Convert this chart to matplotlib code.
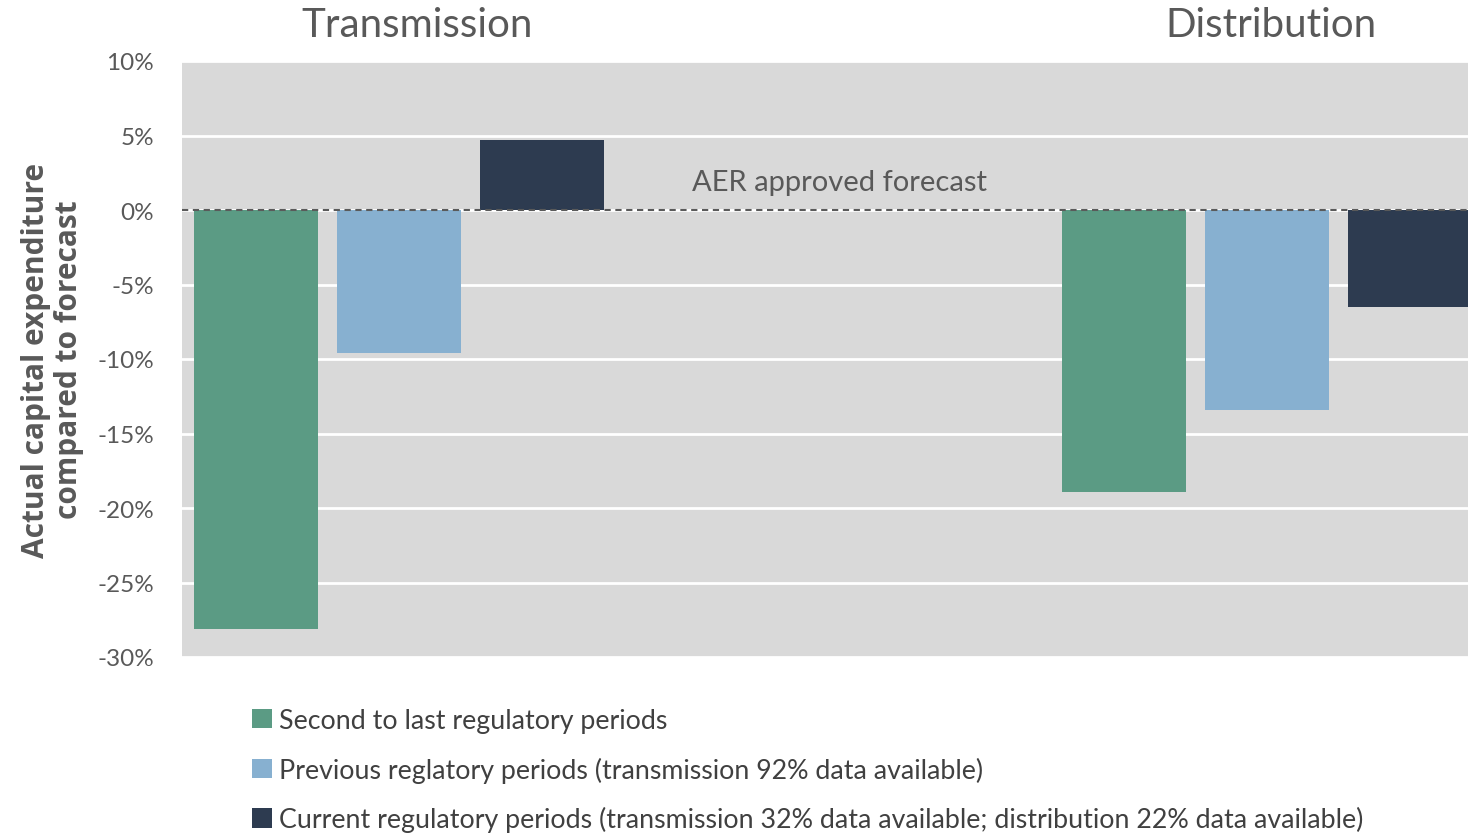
import matplotlib
matplotlib.use("Agg")
import matplotlib.pyplot as plt
from matplotlib.patches import Patch
import numpy as np

plt.rcParams['font.family'] = ['Lato', 'DejaVu Sans']

groups = ["Transmission", "Distribution"]
series = ["Second to last regulatory periods",
          "Previous reglatory periods (transmission 92% data available)",
          "Current regulatory periods (transmission 32% data available; distribution 22% data available)"]
transmission_vals = [-28.1, -9.6, 4.7]
distribution_vals = [-18.9, -13.4, -6.5]
colors = ["#5b9b84", "#87b0d0", "#2d3b50"]
yticks = [10, 5, 0, -5, -10, -15, -20, -25, -30]

fig = plt.figure(figsize=(14.68, 8.37), dpi=100)
ax = fig.add_axes([182/1468, 1-658/837, 1-182/1468, (658-62)/837])
ax.set_facecolor("#d9d9d9")

group_x = [0.0, 6.07]
width = 0.867
vals = [transmission_vals, distribution_vals]
for g, gx in enumerate(group_x):
    for i in range(3):
        ax.bar(gx + i, vals[g][i], width=width, color=colors[i], zorder=2)

ax.set_xlim(-0.517, 8.475)
ax.set_ylim(-30, 10)
ax.set_yticks(yticks)
ax.set_yticklabels([f"{t}%" for t in yticks], fontsize=17.5, color="#595959")
ax.set_xticks([])
ax.yaxis.grid(True, color="white", linewidth=2, zorder=1)
ax.set_axisbelow(True)
for s in ax.spines.values():
    s.set_visible(False)
ax.tick_params(axis='y', length=0, pad=20)

ax.axhline(0, color="#5a5a5a", linestyle=(0, (3, 2.2)), linewidth=1.5, zorder=3)
ax.text(4.08, 1.0, "AER approved forecast", fontsize=21, color="#595959",
        ha="center", va="bottom", zorder=4)

ax.set_ylabel("Actual capital expenditure\ncompared to forecast", fontsize=21.5,
              fontweight="bold", family=["Open Sans", "DejaVu Sans"],
              color="#595959", labelpad=10, linespacing=1.1)

title_x = [1.13, 7.10]
for g in range(2):
    ax.text(title_x[g], 1.03, groups[g], transform=ax.get_xaxis_transform(),
            fontsize=29, color="#595959", ha="center", va="bottom")

handles = [Patch(facecolor=c, edgecolor="none") for c in colors]
fig.legend(handles, series, loc="upper left", bbox_to_anchor=(252/1468, 1-709/837),
           frameon=False, fontsize=19.3, handlelength=0.75, handleheight=0.75,
           handletextpad=0.25, labelspacing=0.88, labelcolor="#404040",
           borderaxespad=0, borderpad=0)

fig.savefig("out.png", dpi=100, facecolor="white")
